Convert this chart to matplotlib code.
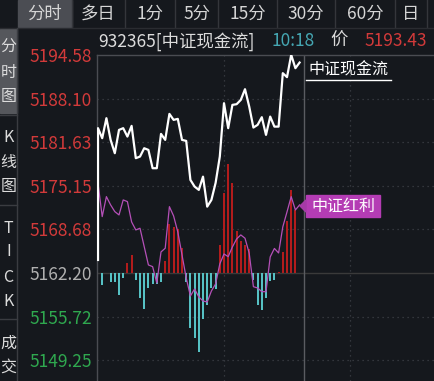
import numpy as np
import matplotlib
matplotlib.use('Agg')
import matplotlib.pyplot as plt
from matplotlib.lines import Line2D
from matplotlib.patches import Rectangle, Polygon

plt.rcParams['font.family'] = ['Noto Sans CJK SC', 'DejaVu Sans']

W, H = 435, 381

# intraday data, one point per minute from 9:30
prev_close = 5162.20
open_price = 5164.13
minutes = np.arange(49)
cash_flow_prices = [5183.71, 5182.22, 5185.19, 5181.97, 5179.99, 5183.45, 5183.71, 5182.46,
                    5184.05, 5179.25, 5179.49, 5180.73, 5180.48, 5177.76, 5177.76, 5182.86,
                    5181.97, 5185.83, 5184.94, 5185.09, 5181.97, 5181.82, 5176.02, 5175.03,
                    5174.54, 5176.51, 5172.05, 5173.05, 5175.58, 5179.49, 5187.42, 5183.71,
                    5187.17, 5187.27, 5187.91, 5189.50, 5186.92, 5183.80, 5184.20, 5185.34,
                    5182.71, 5185.43, 5183.94, 5183.94, 5191.88, 5191.29, 5194.60, 5192.62,
                    5193.46]
dividend_prices = [5175.53, 5170.57, 5173.54, 5172.31, 5171.31, 5170.82, 5173.05, 5172.80,
                   5169.78, 5168.59, 5168.84, 5166.11, 5163.39, 5163.14, 5160.71, 5165.32,
                   5165.87, 5172.05, 5170.67, 5168.29, 5164.88, 5161.46, 5158.78, 5159.82,
                   5158.63, 5158.04, 5157.89, 5159.52, 5160.57, 5163.54, 5165.02, 5164.62,
                   5166.06, 5167.25, 5167.85, 5167.36, 5165.13, 5160.16, 5159.97, 5159.42,
                   5159.42, 5164.58, 5165.84, 5165.17, 5169.04, 5171.27, 5173.54, 5171.56,
                   5172.31]
bar_values = [-0.07, -1.78, 0.0, -1.29, -1.29, -3.31, -0.79, 1.49, 2.68, -1.09, -3.67, -5.40,
              -2.27, -1.63, -1.63, -1.29, 1.78, 7.21, 6.84, 6.47, 3.72, -1.34, -8.17, -9.66,
              -11.74, -6.91, -4.76, -2.23, -2.45, 4.21, 11.89, 16.13, 13.38, 6.24, 4.76, 4.16,
              3.49, -1.04, -4.76, -5.57, -3.72, -1.14, -1.00, 0.15, 3.12, 7.73, 12.34, 9.36, 0.0]

y_ticks = [5194.58, 5188.10, 5181.63, 5175.15, 5168.68, 5162.20, 5155.72, 5149.25]
tab_labels = ['分时', '多日', '1分', '5分', '15分', '30分', '60分', '日']
side_groups = [['分', '时', '图'], ['K', '线', '图'], ['T', 'I', 'C', 'K'], ['成', '交']]

bg = '#15181d'
red = '#d23a3a'
green = '#2fa84f'
gridc = '#3d4047'
linec = '#4a4c52'


def fx(x):
    return x / W


def fy(y):
    return 1 - y / H


fig = plt.figure(figsize=(W / 100, H / 100), dpi=100, facecolor=bg)

# top tab bar
tab_edges = [18, 72, 125, 175, 218, 277, 335, 395, 427]
fig.patches.append(Rectangle((fx(18), fy(27)), fx(72) - fx(18), fy(0) - fy(27),
                             transform=fig.transFigure, color='#4b4d53', zorder=0))
for i, lab in enumerate(tab_labels):
    cx = (tab_edges[i] + tab_edges[i + 1]) / 2
    fig.text(fx(cx), fy(14), lab, color='#d6d6d6', fontsize=12.5, ha='center', va='center')
for xe in tab_edges[1:]:
    fig.add_artist(Line2D([fx(xe), fx(xe)], [fy(0), fy(27)], color='#34363b', lw=1))
fig.add_artist(Line2D([0, 1], [fy(27.5), fy(27.5)], color='#2a2c31', lw=1))

# left side panel
fig.patches.append(Rectangle((0, fy(113)), fx(17), fy(29) - fy(113),
                             transform=fig.transFigure, color='#55575c', zorder=0))
fig.add_artist(Line2D([fx(17.5), fx(17.5)], [fy(28), 0], color='#3a3c41', lw=1))
for yd in [115, 205, 319]:
    fig.add_artist(Line2D([0, fx(17.5)], [fy(yd), fy(yd)], color='#3a3c41', lw=1))
side_y = [[47, 72, 96], [138, 163, 187], [228, 252, 277, 302], [343, 367]]
for grp, ys in zip(side_groups, side_y):
    for ch, yy in zip(grp, ys):
        fig.text(fx(8.5), fy(yy), ch, color='#dcdcdc', fontsize=11.5, ha='center', va='center')

# header line
fig.text(fx(98), fy(41), '932365[中证现金流]', color='#dcdcdc', fontsize=12.5, va='center')
fig.text(fx(272), fy(41), '10:18', color='#45a7b3', fontsize=12.5, va='center')
fig.text(fx(330), fy(41), '价', color='#dcdcdc', fontsize=12.5, va='center')
fig.text(fx(427), fy(41), f'{cash_flow_prices[-1] - 0.03:.2f}', color=red, fontsize=12.5,
         va='center', ha='right')

ax = fig.add_axes([fx(97), 0, fx(435) - fx(97), fy(55)])
ax.set_facecolor(bg)
ax.set_xlim(-0.24, 80.24)
ax.set_ylim(prev_close - 108 / 6.728, y_ticks[0])

for v in y_ticks[1:]:
    if v == prev_close:
        ax.axhline(v, color='#3a3a3a', lw=1, zorder=1)
    else:
        ax.axhline(v, color=gridc, lw=0.9, ls=(0, (1, 3)), zorder=1)
for m in [30, 60]:
    ax.axvline(m, color=gridc, lw=0.9, ls=(0, (1, 3)), zorder=1)
ax.axvline(49.05, color='#5a5c61', lw=1, zorder=1)

vals = np.array(bar_values)
cols = np.where(vals > 0, '#b21c1c', '#56c1c4')
ax.bar(minutes, vals, bottom=prev_close, width=0.5, color=cols, zorder=2)

ax.plot(minutes, dividend_prices, color='#b550b8', lw=0.9, zorder=3)
ax.plot(np.r_[0, minutes], np.r_[open_price, cash_flow_prices], color='white', lw=1.6, zorder=4)

ax.set_xticks([])
ax.set_yticks(y_ticks)
ax.set_yticklabels([f'{v:.2f}' for v in y_ticks], fontsize=12.5)
ax.tick_params(axis='y', length=0, pad=3.5)
for lab, v in zip(ax.get_yticklabels(), y_ticks):
    if v > prev_close:
        lab.set_color(red)
    elif v < prev_close:
        lab.set_color(green)
    else:
        lab.set_color('#b0b0b0')
for s in ['right', 'bottom']:
    ax.spines[s].set_visible(False)
for s in ['top', 'left']:
    ax.spines[s].set_color(linec)
    ax.spines[s].set_linewidth(1)

# series labels
fig.text(fx(308), fy(70), '中证现金流', color='white', fontsize=11.5, va='center')
fig.add_artist(Line2D([fx(306), fx(391)], [fy(79.5), fy(79.5)], color='white', lw=1))
fig.text(fx(343), fy(206), '中证红利', color='white', fontsize=11.5, va='center', ha='center')
fig.patches.append(Rectangle((fx(306), fy(217)), fx(380) - fx(306), fy(195) - fy(217),
                             transform=fig.transFigure, color='#b43cb4', zorder=0))
fig.patches.append(Polygon([[fx(300), fy(206)], [fx(306), fy(200)], [fx(306), fy(212)]],
                           closed=True, transform=fig.transFigure, color='#a53aa7', zorder=0))

fig.savefig('out.png', dpi=100, facecolor=bg)
